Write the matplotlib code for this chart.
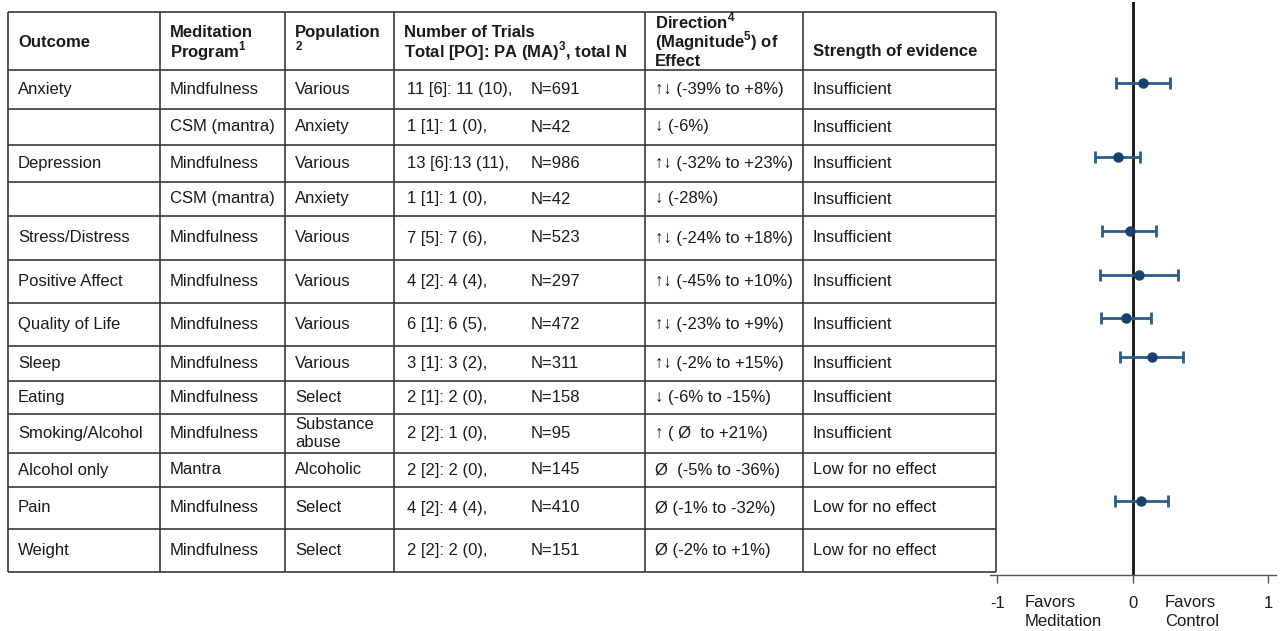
import matplotlib
matplotlib.use("Agg")
import matplotlib.pyplot as plt

plt.rcParams['font.family'] = ['Liberation Sans', 'DejaVu Sans']
plt.rcParams['mathtext.fontset'] = 'custom'
plt.rcParams['mathtext.rm'] = 'Liberation Sans'
plt.rcParams['mathtext.bf'] = 'Liberation Sans:bold'

# table content
outcomes = ["Anxiety", "", "Depression", "", "Stress/Distress", "Positive Affect",
            "Quality of Life", "Sleep", "Eating", "Smoking/Alcohol", "Alcohol only",
            "Pain", "Weight"]
programs = ["Mindfulness", "CSM (mantra)", "Mindfulness", "CSM (mantra)", "Mindfulness",
            "Mindfulness", "Mindfulness", "Mindfulness", "Mindfulness", "Mindfulness",
            "Mantra", "Mindfulness", "Mindfulness"]
populations = ["Various", "Anxiety", "Various", "Anxiety", "Various", "Various", "Various",
               "Various", "Select", "Substance\nabuse", "Alcoholic", "Select", "Select"]
trials = ["11 [6]: 11 (10),", "1 [1]: 1 (0),", "13 [6]:13 (11),", "1 [1]: 1 (0),",
          "7 [5]: 7 (6),", "4 [2]: 4 (4),", "6 [1]: 6 (5),", "3 [1]: 3 (2),",
          "2 [1]: 2 (0),", "2 [2]: 1 (0),", "2 [2]: 2 (0),", "4 [2]: 4 (4),", "2 [2]: 2 (0),"]
total_n = [691, 42, 986, 42, 523, 297, 472, 311, 158, 95, 145, 410, 151]
direction = ["↑↓ (-39% to +8%)", "↓ (-6%)", "↑↓ (-32% to +23%)", "↓ (-28%)",
             "↑↓ (-24% to +18%)", "↑↓ (-45% to +10%)", "↑↓ (-23% to +9%)",
             "↑↓ (-2% to +15%)", "↓ (-6% to -15%)", "↑ ( Ø  to +21%)",
             "Ø  (-5% to -36%)", "Ø (-1% to -32%)", "Ø (-2% to +1%)"]
strength = ["Insufficient"] * 10 + ["Low for no effect"] * 3

# forest plot values (None = no estimate shown)
effect = [0.076, None, -0.111, None, -0.022, 0.046, -0.051, 0.143, None, None, None, 0.063, None]
ci_low = [-0.125, None, -0.280, None, -0.226, -0.243, -0.236, -0.092, None, None, None, -0.130, None]
ci_high = [0.275, None, 0.056, None, 0.174, 0.333, 0.135, 0.373, None, None, None, 0.258, None]

headers = [["Outcome"],
           ["Meditation", "Program$^{\\mathbf{1}}$"],
           ["Population"],
           ["Number of Trials", "Total [PO]: PA (MA)$^{\\mathbf{3}}$, total N"],
           ["Direction$^{\\mathbf{4}}$", "(Magnitude$^{\\mathbf{5}}$) of", "Effect"],
           ["Strength of evidence"]]
header_y = [[41], [31, 51], [31], [31, 51], [22, 41, 60], [50]]

# layout (pixels)
W, H = 1280, 631
col_edges = [8, 160, 285, 394, 645, 803, 996]
row_edges = [12, 70, 109, 145, 182, 216, 260, 303, 346, 381, 414, 453, 487, 529, 572]
fs = 12
txt = '#1a1a1a'
grid = '#3a3a3a'
base_off = 6  # centre of capitals -> baseline

fig = plt.figure(figsize=(12.8, 6.31), dpi=100)
ax = fig.add_axes([0, 0, 1, 1])
ax.set_xlim(0, W)
ax.set_ylim(H, 0)
ax.axis('off')

for y in row_edges:
    ax.plot([col_edges[0], col_edges[-1]], [y, y], color=grid, lw=1.2, solid_capstyle='butt')
for x in col_edges:
    ax.plot([x, x], [row_edges[0], row_edges[-1]], color=grid, lw=1.2, solid_capstyle='butt')

for j, lines in enumerate(headers):
    for line, y in zip(lines, header_y[j]):
        ax.text(col_edges[j] + 10, y + base_off, line, fontsize=fs, fontweight='bold',
                color=txt, va='baseline', ha='left')
# footnote mark under "Population"
ax.text(col_edges[2] + 11, 47, "2", fontsize=8.5, fontweight='bold', color=txt,
        va='center', ha='left')

columns = [outcomes, programs, populations]
for i in range(len(outcomes)):
    yc = (row_edges[i + 1] + row_edges[i + 2]) / 2
    for j, col in enumerate(columns):
        ax.text(col_edges[j] + 10, yc, col[i], fontsize=fs, color=txt, va='center',
                ha='left', linespacing=1.2)
    ax.text(407, yc, trials[i], fontsize=fs, color=txt, va='center', ha='left')
    ax.text(531, yc, f"N={total_n[i]}", fontsize=fs, color=txt, va='center', ha='left')
    ax.text(col_edges[4] + 10, yc, direction[i], fontsize=fs, color=txt, va='center', ha='left')
    ax.text(col_edges[5] + 10, yc, strength[i], fontsize=fs, color=txt, va='center', ha='left')

# forest plot
fx0, fx1, fy0, fy1 = 990, 1276, 2, 575
axf = fig.add_axes([fx0 / W, 1 - fy1 / H, (fx1 - fx0) / W, (fy1 - fy0) / H])
axf.set_xlim(-1.054, 1.057)
axf.set_ylim(fy1, fy0)
axf.patch.set_alpha(0)
for s in ['left', 'top', 'right']:
    axf.spines[s].set_visible(False)
axf.spines['bottom'].set_color('#555555')
axf.spines['bottom'].set_linewidth(1.0)
axf.set_yticks([])
axf.set_xticks([-1, 0, 1])
axf.set_xticklabels(['-1', '0', '1'], fontsize=fs, color=txt)
axf.tick_params(axis='x', length=6, width=1.0, color='#555555', pad=9)
axf.axvline(0, color='#111111', lw=2.0)

for i in range(len(outcomes)):
    if effect[i] is None:
        continue
    yc = (row_edges[i + 1] + row_edges[i + 2]) / 2 - 7
    axf.errorbar(effect[i], yc, xerr=[[effect[i] - ci_low[i]], [ci_high[i] - effect[i]]],
                 fmt='o', color='#17406a', ecolor='#2c5b88', elinewidth=2.0, capsize=4.5,
                 capthick=2.0, markersize=6.5)

ax.text(1025, 612, "Favors\nMeditation", fontsize=fs, color=txt, va='center', ha='left',
        linespacing=1.3)
ax.text(1165, 612, "Favors\nControl", fontsize=fs, color=txt, va='center', ha='left',
        linespacing=1.3)

fig.savefig('out.png', dpi=100)
